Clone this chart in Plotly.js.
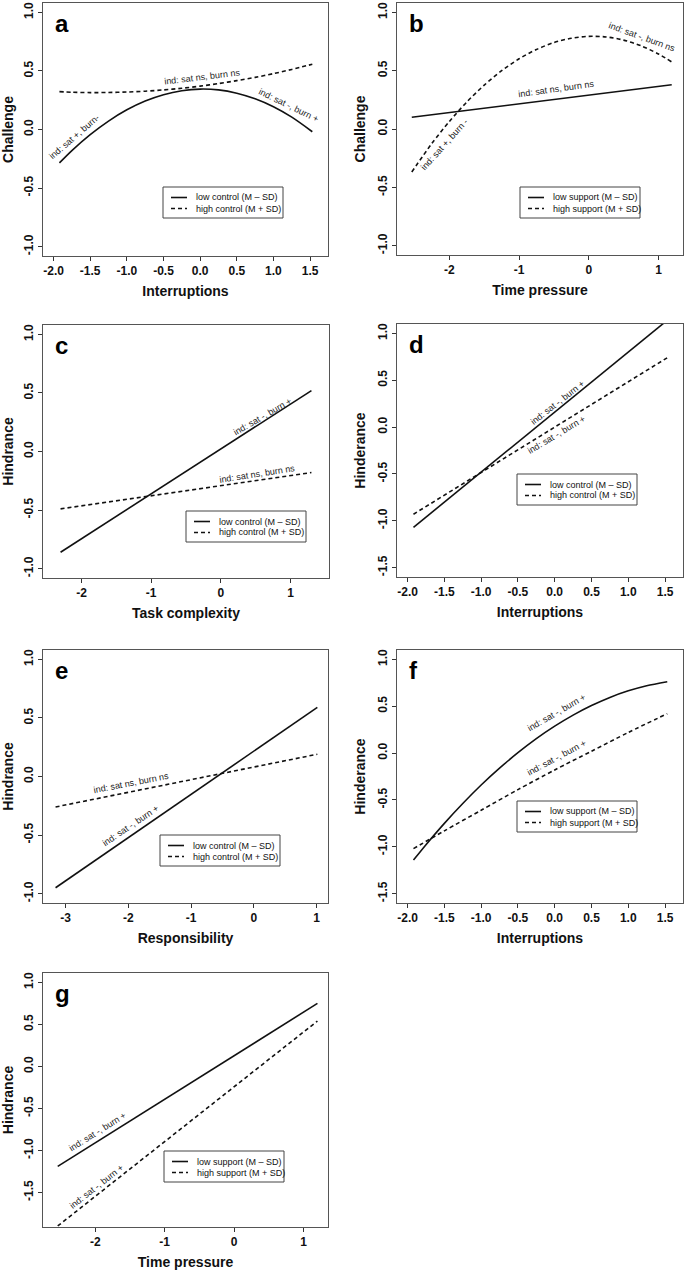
<!DOCTYPE html>
<html><head><meta charset="utf-8">
<script src="https://cdn.plot.ly/plotly-3.0.1.min.js"></script>
<style>html,body{margin:0;padding:0;background:#fff}</style>
</head><body><div id="chart" style="width:685px;height:1270px"></div>
<script>
// ---------- DATA ----------
// Panel a: Challenge ~ Interruptions, moderated by control
const aX = [-1.92, -1.75, -1.5, -1.25, -1.0, -0.75, -0.5, -0.25, 0.0, 0.25, 0.5, 0.75, 1.0, 1.25, 1.53];
const aLowControl = [-0.285, -0.18, -0.044, 0.072, 0.168, 0.243, 0.297, 0.331, 0.345, 0.338, 0.31, 0.262, 0.194, 0.105, -0.019];
const aHighControl = [0.323, 0.318, 0.315, 0.316, 0.320, 0.327, 0.338, 0.352, 0.370, 0.392, 0.417, 0.445, 0.477, 0.513, 0.557];
// Panel b: Challenge ~ Time pressure, moderated by support
const bXLow = [-2.54, 1.19];
const bLowSupport = [0.10, 0.38];
const bXHigh = [-2.54, -2.25, -2.0, -1.75, -1.5, -1.25, -1.0, -0.75, -0.5, -0.25, 0.0, 0.25, 0.5, 0.75, 1.0, 1.19];
const bHighSupport = [-0.368, -0.123, 0.065, 0.232, 0.376, 0.500, 0.602, 0.682, 0.741, 0.778, 0.794, 0.789, 0.762, 0.713, 0.643, 0.575];
// Panel c: Hindrance ~ Task complexity, moderated by control
const cX = [-2.30, 1.30];
const cLowControl = [-0.86, 0.52];
const cHighControl = [-0.49, -0.18];
// Panel d: Hinderance ~ Interruptions, moderated by control
const dX = [-1.92, 1.53];
const dLowControl = [-1.07, 1.14];
const dHighControl = [-0.93, 0.74];
// Panel e: Hindrance ~ Responsibility, moderated by control
const eX = [-3.16, 1.01];
const eLowControl = [-0.95, 0.59];
const eHighControl = [-0.26, 0.19];
// Panel f: Hinderance ~ Interruptions, moderated by support
const fXLow = [-1.92, -1.75, -1.5, -1.25, -1.0, -0.75, -0.5, -0.25, 0.0, 0.25, 0.5, 0.75, 1.0, 1.25, 1.53];
const fLowSupport = [-1.142, -0.978, -0.750, -0.538, -0.341, -0.161, 0.004, 0.154, 0.287, 0.405, 0.507, 0.594, 0.664, 0.719, 0.762];
const fXHigh = [-1.92, -1.5, -1.0, -0.5, 0.0, 0.5, 1.0, 1.53];
const fHighSupport = [-1.02, -0.83, -0.61, -0.39, -0.18, 0.02, 0.22, 0.42];
// Panel g: Hindrance ~ Time pressure, moderated by support
const gX = [-2.54, 1.20];
const gLowSupport = [-1.19, 0.75];
const gHighSupport = [-1.90, 0.54];

// Tick values / labels
const xTicksHalf = [-2.0, -1.5, -1.0, -0.5, 0.0, 0.5, 1.0, 1.5];
const xTicksHalfText = ["-2.0", "-1.5", "-1.0", "-0.5", "0.0", "0.5", "1.0", "1.5"];
const xTicksTime = [-2, -1, 0, 1];
const xTicksTimeText = ["-2", "-1", "0", "1"];
const xTicksResp = [-3, -2, -1, 0, 1];
const xTicksRespText = ["-3", "-2", "-1", "0", "1"];
const yTicksA = [-1.0, -0.5, 0.0, 0.5, 1.0];
const yTicksAText = ["-1.0", "-0.5", "0.0", "0.5", "1.0"];
const yTicksB = [-1.5, -1.0, -0.5, 0.0, 0.5, 1.0];
const yTicksBText = ["-1.5", "-1.0", "-0.5", "0.0", "0.5", "1.0"];

const legControl = ["low control (M \u2013 SD)", "high control (M + SD)"];
const legSupport = ["low support (M \u2013 SD)", "high support (M + SD)"];

// ---------- LAYOUT ----------
const W = 685, H = 1270;
const FONT = "Liberation Sans, Arial, Helvetica, sans-serif";
const px = v => v / W;
const py = v => 1 - v / H;

const panels = [
  {id: "", letter: "a", box: [43, 328, 3, 256], xr: [-2.144, 1.744], yr: [-1.08, 1.08],
   xt: xTicksHalf, xtt: xTicksHalfText, yt: yTicksA, ytt: yTicksAText,
   xtitle: "Interruptions", ytitle: "Challenge", leg: [163, 187], legText: legControl,
   traces: [[aX, aLowControl, "solid"], [aX, aHighControl, "dash"]],
   notes: [["ind: sat +, burn-", 74, 137, -41], ["ind: sat ns, burn ns", 202, 77, -7], ["ind: sat -, burn +", 288, 105, 26]]},
  {id: "2", letter: "b", box: [397, 683, 3, 255], xr: [-2.752, 1.352], yr: [-1.08, 1.08],
   xt: xTicksTime, xtt: xTicksTimeText, yt: yTicksA, ytt: yTicksAText,
   xtitle: "Time pressure", ytitle: "Challenge", leg: [520, 187], legText: legSupport,
   traces: [[bXLow, bLowSupport, "solid"], [bXHigh, bHighSupport, "dash"]],
   notes: [["ind: sat -, burn ns", 642, 37, 20], ["ind: sat ns, burn ns", 556, 89, -8], ["ind: sat +, burn -", 444, 145, -48]]},
  {id: "3", letter: "c", box: [43, 329, 325, 578], xr: [-2.552, 1.552], yr: [-1.08, 1.08],
   xt: xTicksTime, xtt: xTicksTimeText, yt: yTicksA, ytt: yTicksAText,
   xtitle: "Task complexity", ytitle: "Hindrance", leg: [186, 511], legText: legControl,
   traces: [[cX, cLowControl, "solid"], [cX, cHighControl, "dash"]],
   notes: [["ind: sat -, burn +", 262, 417, -30], ["ind: sat ns, burn ns", 257, 474, -9]]},
  {id: "4", letter: "d", box: [397, 683, 324, 577], xr: [-2.144, 1.744], yr: [-1.6, 1.1],
   xt: xTicksHalf, xtt: xTicksHalfText, yt: yTicksB, ytt: yTicksBText,
   xtitle: "Interruptions", ytitle: "Hinderance", leg: [517, 474], legText: legControl,
   traces: [[dX, dLowControl, "solid"], [dX, dHighControl, "dash"]],
   notes: [["ind: sat -, burn +", 557, 403, -38], ["ind: sat -, burn +", 556, 435, -31]]},
  {id: "5", letter: "e", box: [43, 328, 650, 903], xr: [-3.36, 1.18], yr: [-1.08, 1.08],
   xt: xTicksResp, xtt: xTicksRespText, yt: yTicksA, ytt: yTicksAText,
   xtitle: "Responsibility", ytitle: "Hindrance", leg: [160, 835], legText: legControl,
   traces: [[eX, eLowControl, "solid"], [eX, eHighControl, "dash"]],
   notes: [["ind: sat ns, burn ns", 131, 783, -11], ["ind: sat -, burn +", 130, 826, -34]]},
  {id: "6", letter: "f", box: [397, 683, 650, 903], xr: [-2.144, 1.744], yr: [-1.6, 1.1],
   xt: xTicksHalf, xtt: xTicksHalfText, yt: yTicksB, ytt: yTicksBText,
   xtitle: "Interruptions", ytitle: "Hinderance", leg: [517, 801], legText: legSupport,
   traces: [[fXLow, fLowSupport, "solid"], [fXHigh, fHighSupport, "dash"]],
   notes: [["ind: sat -, burn +", 556, 713, -30], ["ind: sat -, burn +", 556, 758, -28]]},
  {id: "7", letter: "g", box: [43, 328, 973, 1227], xr: [-2.752, 1.352], yr: [-1.912, 1.112],
   xt: xTicksTime, xtt: xTicksTimeText, yt: yTicksB, ytt: yTicksBText,
   xtitle: "Time pressure", ytitle: "Hindrance", leg: [164, 1151], legText: legSupport,
   traces: [[gX, gLowSupport, "solid"], [gX, gHighSupport, "dash"]],
   notes: [["ind: sat -, burn +", 97, 1132, -32], ["ind: sat -, burn +", 96, 1187, -38]]}
];

const data = [];
const annotations = [];
const shapes = [];
const layout = {
  width: W, height: H,
  margin: {l: 0, r: 0, t: 0, b: 0},
  paper_bgcolor: "#fff", plot_bgcolor: "#fff",
  showlegend: false,
  font: {family: FONT, color: "#000"}
};

panels.forEach(p => {
  const [l, r, t, b] = p.box;
  const xa = "xaxis" + p.id, ya = "yaxis" + p.id;
  const xref = "x" + p.id, yref = "y" + p.id;
  const axisCommon = {
    showgrid: false, zeroline: false, showline: true, mirror: true,
    linecolor: "#555", linewidth: 1, ticks: "outside", ticklen: 4,
    tickwidth: 1, tickcolor: "#333", tickmode: "array",
    tickfont: {family: FONT, size: 12, color: "#111", weight: "bold"},
    fixedrange: true
  };
  layout[xa] = Object.assign({}, axisCommon, {
    domain: [px(l), px(r)], anchor: yref, range: p.xr,
    tickvals: p.xt, ticktext: p.xtt,
    title: {text: "<b>" + p.xtitle + "</b>", font: {family: FONT, size: 14, color: "#111"}, standoff: 8}
  });
  layout[ya] = Object.assign({}, axisCommon, {
    domain: [py(b), py(t)], anchor: xref, range: p.yr,
    tickvals: p.yt, ticktext: p.ytt, tickangle: -90,
    title: {text: "<b>" + p.ytitle + "</b>", font: {family: FONT, size: 14, color: "#111"}, standoff: 7}
  });
  p.traces.forEach(tr => {
    data.push({
      type: "scatter", mode: "lines", x: tr[0], y: tr[1],
      xaxis: xref, yaxis: yref, hoverinfo: "skip",
      line: {color: "#111", width: 1.6, dash: tr[2] === "dash" ? "4px,3px" : "solid",
             shape: tr[0].length > 2 ? "spline" : "linear", smoothing: 0.8}
    });
  });
  // panel letter
  annotations.push({xref: "paper", yref: "paper", x: px(l + 10), y: py(t + 5),
    xanchor: "left", yanchor: "top", showarrow: false,
    text: "<b>" + p.letter + "</b>", font: {family: FONT, size: 24, color: "#000"}});
  // line labels
  p.notes.forEach(n => {
    annotations.push({xref: "paper", yref: "paper", x: px(n[1]), y: py(n[2]),
      xanchor: "center", yanchor: "middle", showarrow: false, textangle: n[3],
      text: n[0], font: {family: FONT, size: 9, color: "#222"}});
  });
  // legend box
  const [lx, ly] = p.leg;
  const lw = 120, lh = 31;
  shapes.push({type: "rect", xref: "paper", yref: "paper",
    x0: px(lx), x1: px(lx + lw), y0: py(ly), y1: py(ly + lh),
    line: {color: "#444", width: 1}, fillcolor: "rgba(0,0,0,0)"});
  const rows = [ly + 10.5, ly + 21.5];
  ["solid", "4px,3px"].forEach((d, i) => {
    shapes.push({type: "line", xref: "paper", yref: "paper",
      x0: px(lx + 8), x1: px(lx + 24), y0: py(rows[i]), y1: py(rows[i]),
      line: {color: "#111", width: 1.6, dash: d}});
    annotations.push({xref: "paper", yref: "paper", x: px(lx + 31), y: py(rows[i]),
      xanchor: "left", yanchor: "middle", showarrow: false,
      text: p.legText[i], font: {family: FONT, size: 9, color: "#111"}});
  });
});
layout.annotations = annotations;
layout.shapes = shapes;

Plotly.newPlot("chart", data, layout, {staticPlot: true, displayModeBar: false});
</script>
</body></html>
